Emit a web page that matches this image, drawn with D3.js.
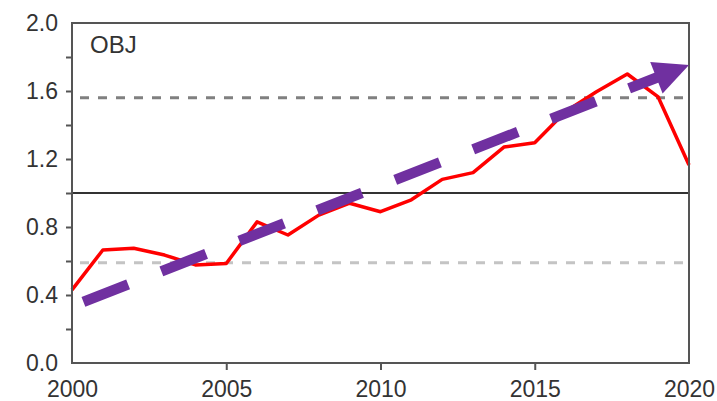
<!DOCTYPE html>
<html>
<head>
<meta charset="utf-8">
<script src="https://cdn.jsdelivr.net/npm/d3@7"></script>
<style>
    html, body { margin: 0; padding: 0; background: #fff; }
    svg { display: block; font-family: "Liberation Sans", Arial, sans-serif; }
</style>
</head>
<body>
<div id="chart"></div>
<script>
// data
const years = d3.range(2000, 2021);
const values = [0.43, 0.665, 0.675, 0.635, 0.577, 0.585, 0.83, 0.753, 0.87, 0.94, 0.89,
                0.96, 1.08, 1.12, 1.27, 1.295, 1.48, 1.595, 1.70, 1.565, 1.165];
const refLines = [1.0];
const bandUpper = [1.56];
const bandLower = [0.59];
const trendYears = [2000.37, 2020];
const trendValues = [0.36, 1.753];
const xTickValues = [2000, 2005, 2010, 2015, 2020];
const yTickValues = [0.0, 0.2, 0.4, 0.6, 0.8, 1.0, 1.2, 1.4, 1.6, 1.8, 2.0];
const yTickLabels = ["0.0", "", "0.4", "", "0.8", "", "1.2", "", "1.6", "", "2.0"];
const panelLabel = "OBJ";

const width = 717;
const height = 401;
const margin = { left: 72, top: 23, right: 28, bottom: 38 };

const gray = "#555";
const textColor = "#333";
const red = "#ff0000";
const purple = "#7030a0";

const svg = d3.select("#chart")
    .append("svg")
    .attr("width", width)
    .attr("height", height)
    .attr("viewBox", `0 0 ${width} ${height}`);

const x = d3.scaleLinear()
    .domain([2000, 2020])
    .range([margin.left, width - margin.right]);

const y = d3.scaleLinear()
    .domain([0, 2])
    .range([height - margin.bottom, margin.top]);

// dashed band lines
svg.append("line")
    .attr("x1", x(2000)).attr("x2", x(2020))
    .attr("y1", y(bandUpper[0])).attr("y2", y(bandUpper[0]))
    .attr("stroke", "#808080")
    .attr("stroke-width", 3)
    .attr("stroke-dasharray", "9,9")
    .attr("stroke-dashoffset", -8);

svg.append("line")
    .attr("x1", x(2000)).attr("x2", x(2020))
    .attr("y1", y(bandLower[0])).attr("y2", y(bandLower[0]))
    .attr("stroke", "#c4c4c4")
    .attr("stroke-width", 3)
    .attr("stroke-dasharray", "9,9")
    .attr("stroke-dashoffset", -8);

// reference line at 1.0
svg.selectAll(".ref")
    .data(refLines)
    .join("line")
        .attr("class", "ref")
        .attr("x1", x(2000)).attr("x2", x(2020))
        .attr("y1", d => y(d)).attr("y2", d => y(d))
        .attr("stroke", "#333")
        .attr("stroke-width", 2);

// series
const line = d3.line()
    .x((d, i) => x(years[i]))
    .y(d => y(d));

svg.append("path")
    .datum(values)
    .attr("d", line)
    .attr("fill", "none")
    .attr("stroke", red)
    .attr("stroke-width", 3.5)
    .attr("stroke-linejoin", "round");

// axes
const xAxis = d3.axisBottom(x)
    .tickValues(xTickValues)
    .tickFormat(d3.format("d"))
    .tickSize(7)
    .tickPadding(10.5);

const gx = svg.append("g")
    .attr("transform", `translate(0,${height - margin.bottom})`)
    .call(xAxis);

const yAxis = d3.axisLeft(y)
    .tickValues(yTickValues)
    .tickFormat((d, i) => yTickLabels[i])
    .tickSize(6)
    .tickPadding(8);

const gy = svg.append("g")
    .attr("transform", `translate(${margin.left},0)`)
    .call(yAxis);

[gx, gy].forEach(g => {
    g.select(".domain").remove();
    g.selectAll(".tick line").attr("stroke", gray).attr("stroke-width", 2);
    g.selectAll(".tick text")
        .attr("fill", textColor)
        .style("font-size", "23px")
        .style("font-family", "Liberation Sans, Arial, sans-serif");
});

// no tick marks at the frame corners
gx.selectAll(".tick line").filter(d => d === 2000 || d === 2020).remove();
gy.selectAll(".tick line").filter(d => d === 0 || d === 2).remove();

// frame
svg.append("rect")
    .attr("x", x(2000))
    .attr("y", y(2))
    .attr("width", x(2020) - x(2000))
    .attr("height", y(0) - y(2))
    .attr("fill", "none")
    .attr("stroke", gray)
    .attr("stroke-width", 2);

// panel label
svg.append("text")
    .attr("x", x(2000) + 18)
    .attr("y", y(2) + 30)
    .attr("fill", textColor)
    .style("font-size", "24px")
    .text(panelLabel);

// purple trend arrow
const p0 = [x(trendYears[0]), y(trendValues[0])];
const p1 = [x(trendYears[1]), y(trendValues[1])];
const dx = p1[0] - p0[0];
const dy = p1[1] - p0[1];
const len = Math.hypot(dx, dy);
const ux = dx / len, uy = dy / len;
const headLen = 35;
const headHalf = 17;
const base = [p1[0] - ux * headLen, p1[1] - uy * headLen];

svg.append("line")
    .attr("x1", p0[0]).attr("y1", p0[1])
    .attr("x2", base[0] + ux * 2).attr("y2", base[1] + uy * 2)
    .attr("stroke", purple)
    .attr("stroke-width", 10.5)
    .attr("stroke-dasharray", "48,35.7");

svg.append("path")
    .attr("d", d3.line()([
        p1,
        [base[0] - uy * headHalf, base[1] + ux * headHalf],
        [base[0] + uy * headHalf, base[1] - ux * headHalf]
    ]) + "Z")
    .attr("fill", purple);
</script>
</body>
</html>
